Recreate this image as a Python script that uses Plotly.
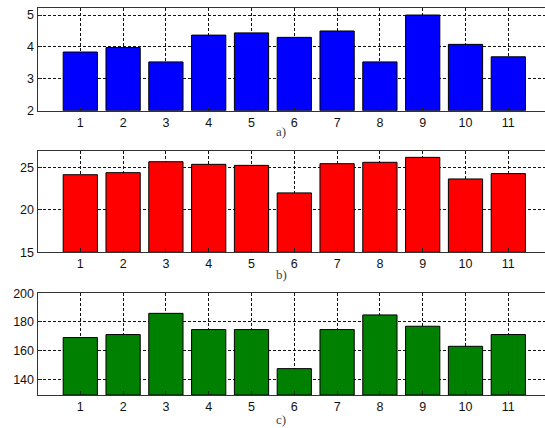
import plotly.graph_objects as go

categories = [1, 2, 3, 4, 5, 6, 7, 8, 9, 10, 11]
values_a = [3.84, 3.98, 3.53, 4.37, 4.44, 4.30, 4.50, 3.53, 5.00, 4.08, 3.69]
values_b = [24.13, 24.37, 25.66, 25.35, 25.23, 21.99, 25.43, 25.59, 26.17, 23.63, 24.26]
values_c = [169.1, 171.2, 186.0, 174.7, 174.7, 147.4, 174.7, 184.9, 177.0, 163.0, 171.2]
ticks_a = [2, 3, 4, 5]
ticks_b = [15, 20, 25]
ticks_c = [140, 160, 180, 200]
panel_labels = ["a)", "b)", "c)"]

W, H = 545, 428
def py(px):
    return 1 - px / H

panels = [
    dict(vals=values_a, color="#0000FF", rng=[2, 5.23], ticks=ticks_a, top=7.7, bot=110.7, lab_y=131.5),
    dict(vals=values_b, color="#FF0000", rng=[15, 26.92], ticks=ticks_b, top=151.0, bot=252.3, lab_y=274.5),
    dict(vals=values_c, color="#008000", rng=[129, 200], ticks=ticks_c, top=293.3, bot=395.0, lab_y=419.5),
]

fig = go.Figure()
left = 37.5 / W
x_tick1 = 80.3
x_sp = 42.8
x_max = 11 + (W - (x_tick1 + 10 * x_sp)) / x_sp

annotations = []
for i, p in enumerate(panels):
    n = "" if i == 0 else str(i + 1)
    fig.add_trace(go.Bar(
        x=categories, y=[v - p["rng"][0] for v in p["vals"]], base=p["rng"][0],
        width=0.8, marker=dict(color=p["color"], line=dict(color="#000000", width=1)),
        xaxis="x" + n, yaxis="y" + n, showlegend=False, hoverinfo="skip",
    ))
    common_grid = dict(showgrid=True, gridcolor="#111111", gridwidth=1, griddash="3px,2px",
                       zeroline=False, ticks="inside", ticklen=4, tickcolor="#222222",
                       tickfont=dict(family="Liberation Sans, Arial, sans-serif", size=12.5, color="#111111"),
                       showline=True, linecolor="#333333", linewidth=1, automargin=False)
    fig.layout["xaxis" + n] = dict(
        domain=[left, 1.0], range=[0, x_max], tickmode="array", tickvals=categories,
        anchor="y" + n, mirror=True, ticklabelstandoff=0, **common_grid)
    fig.layout["yaxis" + n] = dict(
        domain=[py(p["bot"]), py(p["top"])], range=p["rng"], tickmode="array", tickvals=p["ticks"],
        anchor="x" + n, mirror=False, **common_grid)
    annotations.append(dict(
        text=panel_labels[i], x=281 / W, y=py(p["lab_y"]), xref="paper", yref="paper",
        xanchor="center", yanchor="middle", showarrow=False,
        font=dict(family="Liberation Serif, Times New Roman, serif", size=13, color="#444444")))

fig.update_layout(
    template="none",
    width=W, height=H, margin=dict(l=0, r=0, t=0, b=0, autoexpand=False),
    paper_bgcolor="white", plot_bgcolor="white", bargap=0,
    annotations=annotations,
)
fig.write_html("out.html", config={"displayModeBar": False, "staticPlot": True},
               post_script="document.body.style.margin='0px';document.body.style.overflow='hidden';")
